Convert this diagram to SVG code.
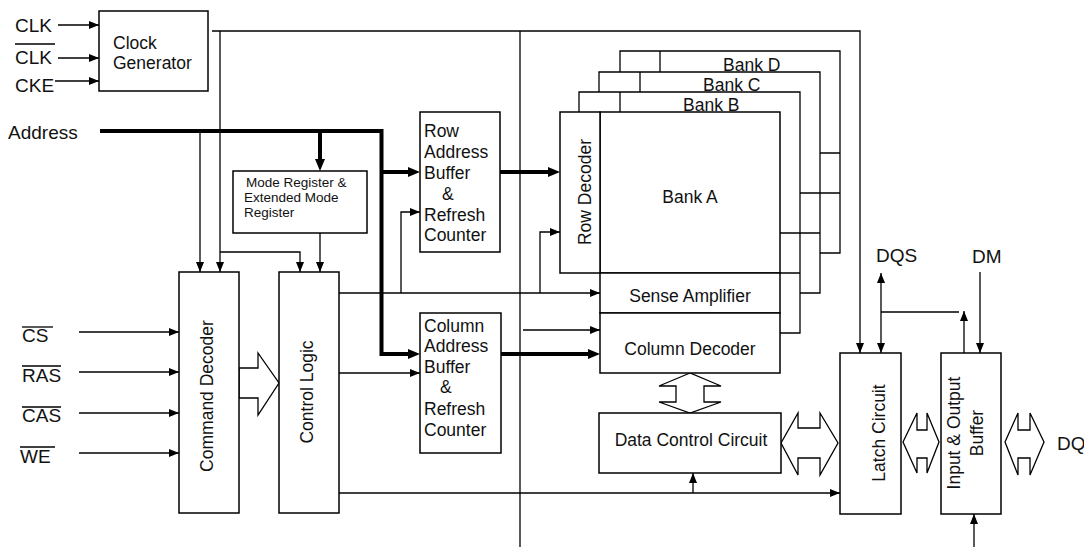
<svg xmlns="http://www.w3.org/2000/svg" width="1084" height="547" viewBox="0 0 1084 547">
<style>
.box{fill:#fff;stroke:#000;stroke-width:1.5}
.ln{fill:none;stroke:#000;stroke-width:1.3}
.th{fill:none;stroke:#000;stroke-width:4;stroke-linejoin:miter}
.big{fill:#fff;stroke:#000;stroke-width:1.3}
text{font-family:"Liberation Sans",Arial,sans-serif;font-size:17.5px;fill:#111}
.lb{font-size:19px}
.sm{font-size:13.5px}
.mid{text-anchor:middle}
</style>
<defs>
<marker id="a" viewBox="0 0 10 8" refX="10" refY="4" markerWidth="10" markerHeight="8" markerUnits="userSpaceOnUse" orient="auto-start-reverse"><path d="M0,0 L10,4 L0,8 z" fill="#000"/></marker>
<marker id="ab" viewBox="0 0 12 10" refX="5" refY="5" markerWidth="12" markerHeight="10" markerUnits="userSpaceOnUse" orient="auto"><path d="M0,0 L12,5 L0,10 z" fill="#000"/></marker>
</defs>

<g id="connectors">
<path class="ln" d="M520,31 V547"/>
<path class="ln" d="M58,25 H99" marker-end="url(#a)"/>
<path class="ln" d="M58,58 H99" marker-end="url(#a)"/>
<path class="ln" d="M55,81 H99" marker-end="url(#a)"/>
<path class="ln" d="M212,31 H860 V353" marker-end="url(#a)"/>
<path class="ln" d="M220,31 V272" marker-end="url(#a)"/>
<path class="ln" d="M220,252 H300 V272" marker-end="url(#a)"/>
<path class="ln" d="M200,131 V272" marker-end="url(#a)"/>
<path class="ln" d="M320,233 V272" marker-end="url(#a)"/>
<path class="th" d="M100,131 H381.5 V354 H413" marker-end="url(#ab)"/>
<path class="th" d="M381.5,172 H413" marker-end="url(#ab)"/>
<path class="th" d="M320,131 V164" marker-end="url(#ab)"/>
<path class="th" d="M500,172 H553" marker-end="url(#ab)"/>
<path class="th" d="M501,354 H593" marker-end="url(#ab)"/>
<path class="ln" d="M339,293 H600" marker-end="url(#a)"/>
<path class="ln" d="M401,293 V212 H420" marker-end="url(#a)"/>
<path class="ln" d="M540,293 V232 H560" marker-end="url(#a)"/>
<path class="ln" d="M523,330 H600" marker-end="url(#a)"/>
<path class="ln" d="M339,373 H420" marker-end="url(#a)"/>
<path class="ln" d="M339,493 H840" marker-end="url(#a)"/>
<path class="ln" d="M693,493 V473" marker-end="url(#a)"/>
<path class="ln" d="M79,332 H179" marker-end="url(#a)"/>
<path class="ln" d="M79,372 H179" marker-end="url(#a)"/>
<path class="ln" d="M79,413 H179" marker-end="url(#a)"/>
<path class="ln" d="M79,453 H179" marker-end="url(#a)"/>
<path class="ln" d="M881,273 V353" marker-start="url(#a)" marker-end="url(#a)"/>
<path class="ln" d="M881,312 H959"/>
<path class="ln" d="M964,353 V311" marker-end="url(#a)"/>
<path class="ln" d="M980,272 V353" marker-end="url(#a)"/>
<path class="ln" d="M974,547 V514" marker-end="url(#a)"/>
<polygon class="big" points="239,368 258,368 258,353 279,383 258,415 258,398 239,398"/>
<polygon class="big" points="690,373 659,386 676,386 676,402 659,402 690,413 721,402 704,402 704,386 721,386"/>
<polygon class="big" points="781,443 798,413 798,428 820,428 820,413 838,443 820,475 820,458 798,458 798,475"/>
<polygon class="big" points="903,442 917,413 917,430 927,430 927,413 939,442 927,473 927,458 917,458 917,473"/>
<polygon class="big" points="1005,442 1018,413 1018,430 1030,430 1030,413 1044,442 1030,475 1030,458 1018,458 1018,475"/>
</g>

<g id="labels">
<text class="lb" x="15" y="32">CLK</text>
<text class="lb" x="15" y="64">CLK</text>
<path class="ln" d="M15,44 H55"/>
<text class="lb" x="15" y="92">CKE</text>
<text class="lb" x="8" y="139">Address</text>
<text class="lb" x="22" y="342">CS</text>
<path class="ln" d="M22,327 H53"/>
<text class="lb" x="22" y="382">RAS</text>
<path class="ln" d="M22,366 H61"/>
<text class="lb" x="22" y="422">CAS</text>
<path class="ln" d="M22,407 H61"/>
<text class="lb" x="20" y="463">WE</text>
<path class="ln" d="M20,447 H55"/>
<text class="lb" x="876" y="262">DQS</text>
<text class="lb" x="972" y="263">DM</text>
<text class="lb" x="1057" y="450">DQ</text>
</g>

<g id="clock-generator">
<rect class="box" x="99" y="11" width="109" height="80"/>
<text x="113" y="49">Clock</text>
<text x="113" y="69">Generator</text>
</g>

<g id="mode-register">
<rect class="box" x="233" y="171" width="134" height="62"/>
<text class="sm" x="246" y="187">Mode Register &amp;</text>
<text class="sm" x="244" y="202">Extended Mode</text>
<text class="sm" x="244" y="217">Register</text>
</g>

<g id="command-decoder">
<rect class="box" x="179" y="272" width="60" height="241"/>
<text class="mid" x="213" y="396" transform="rotate(-90 213 396)">Command Decoder</text>
</g>

<g id="control-logic">
<rect class="box" x="279" y="272" width="60" height="241"/>
<text class="mid" x="313" y="392" transform="rotate(-90 313 392)">Control Logic</text>
</g>

<g id="row-address-buffer">
<rect class="box" x="420" y="112" width="80" height="140"/>
<text x="424" y="137">Row</text>
<text x="424" y="158">Address</text>
<text x="424" y="179">Buffer</text>
<text x="442" y="200">&amp;</text>
<text x="424" y="221">Refresh</text>
<text x="424" y="241">Counter</text>
</g>

<g id="column-address-buffer">
<rect class="box" x="420" y="313" width="81" height="140"/>
<text x="424" y="332">Column</text>
<text x="424" y="352">Address</text>
<text x="424" y="373">Buffer</text>
<text x="440" y="393">&amp;</text>
<text x="424" y="415">Refresh</text>
<text x="424" y="436">Counter</text>
</g>

<g id="bank-d">
<path class="ln" d="M620,72 V51 H840 V253 H820 M660,51 V72 M820,153 H840 M820,193 H840"/>
<text x="723" y="71">Bank D</text>
</g>
<g id="bank-c">
<path class="ln" d="M599,92 V72 H820 V293 H800 M640,72 V92 M800,193 H820 M800,233 H820"/>
<text x="703" y="91">Bank C</text>
</g>
<g id="bank-b">
<path class="ln" d="M579,112 V92 H800 V333 H780 M620,92 V112 M780,233 H800 M780,273 H800"/>
<text x="683" y="111">Bank B</text>
</g>

<g id="bank-a">
<rect class="box" x="600" y="112" width="180" height="161"/>
<text class="mid" x="690" y="203">Bank A</text>
</g>

<g id="row-decoder">
<rect class="box" x="560" y="112" width="40" height="161"/>
<text class="mid" x="591" y="192" transform="rotate(-90 591 192)">Row Decoder</text>
</g>

<g id="sense-amplifier">
<rect class="box" x="600" y="273" width="180" height="40"/>
<text class="mid" x="690" y="302">Sense Amplifier</text>
</g>

<g id="column-decoder">
<rect class="box" x="600" y="313" width="180" height="60"/>
<text class="mid" x="690" y="355">Column Decoder</text>
</g>

<g id="data-control-circuit">
<rect class="box" x="599" y="413" width="182" height="60"/>
<text class="mid" x="691" y="446">Data Control Circuit</text>
</g>

<g id="latch-circuit">
<rect class="box" x="840" y="353" width="61" height="161"/>
<text class="mid" x="885" y="433" transform="rotate(-90 885 433)">Latch Circuit</text>
</g>

<g id="io-buffer">
<rect class="box" x="941" y="353" width="60" height="161"/>
<text class="mid" x="960" y="433" transform="rotate(-90 960 433)">Input &amp; Output</text>
<text class="mid" x="983" y="433" transform="rotate(-90 983 433)">Buffer</text>
</g>
</svg>
